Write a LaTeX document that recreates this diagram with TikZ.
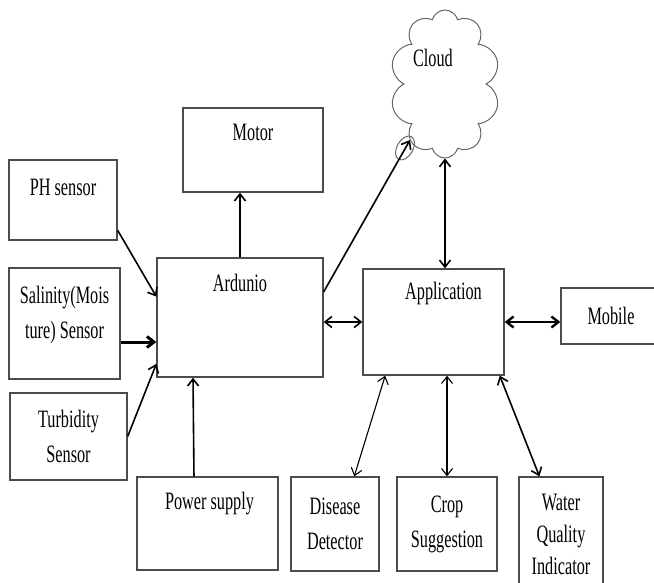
\documentclass[tikz,border=0pt]{standalone}
\usepackage{fontspec}
\newfontfamily\diafont{Liberation Serif}[FakeStretch=0.65]
\usetikzlibrary{arrows.meta}
\usetikzlibrary{shapes.symbols}
\usetikzlibrary{shapes.geometric}

\begin{document}
\begin{tikzpicture}[x=1pt, y=-1pt,
  font=\diafont\fontsize{25}{35}\selectfont,
  blk/.style={draw=black!70, line width=1.3pt, rectangle, inner sep=0pt, align=center},
  toplbl/.style={anchor=north, inner sep=0pt, yshift=-16pt},
  arr/.style={line width=1.6pt, -{Straight Barb[length=7pt,width=11pt]}},
  darr/.style={line width=1.6pt, {Straight Barb[length=7pt,width=11pt]}-{Straight Barb[length=7pt,width=11pt]}},
  slim/.style={line width=1.1pt}]
  % page frame, pixel grid of the original figure (y grows downwards)
  \useasboundingbox (0,0) rectangle (654,582);
  \clip (0,0) rectangle (654,582);
  % sensors on the left
  \node[blk, minimum width=108pt, minimum height=80pt,
    label={[toplbl, yshift=-4pt]north:PH sensor}] (ph) at (63,200) {};
  \node[blk, minimum width=111pt, minimum height=111pt,
    label={[inner sep=0pt, yshift=9pt, align=center]center:Salinity(Mois\\ture) Sensor}] (sal) at (64.5,323.5) {};
  \node[blk, minimum width=117pt, minimum height=87pt] (turb) at (68.5,436.5) {Turbidity\\Sensor};
  % controller, actuator and supply
  \node[blk, minimum width=140pt, minimum height=84pt,
    label={[toplbl, yshift=-1pt]north:Motor}] (motor) at (253,150) {};
  \node[blk, minimum width=166pt, minimum height=119pt,
    label={[toplbl, yshift=-1pt]north:Ardunio}] (ard) at (240,317.5) {};
  \node[blk, minimum width=141pt, minimum height=93pt,
    label={[toplbl, xshift=2pt]north:Power supply}] (pow) at (207.5,523.5) {};
  % cloud with its little tail bubble
  \node[cloud, cloud puffs=10, cloud ignores aspect, draw=black!60, line width=1pt,
    minimum width=110pt, minimum height=148pt,
    label={[inner sep=0pt, xshift=-12pt, yshift=26pt]center:Cloud}] (cloud) at (445,84) {};
  \node[ellipse, draw=black!60, line width=1pt, minimum width=16pt, minimum height=26pt,
    rotate=-30] (tail) at (405,148) {};
  \coordinate (cin) at (410,140);
  % application side
  \node[blk, minimum width=141pt, minimum height=106pt,
    label={[toplbl, xshift=10pt, yshift=2pt]north:Application}] (app) at (433.5,322) {};
  \node[blk, minimum width=100pt, minimum height=56pt] (mob) at (611,316) {Mobile};
  \node[blk, minimum width=88pt, minimum height=94pt] (dis) at (335,524) {Disease\\Detector};
  \node[blk, minimum width=100pt, minimum height=94pt] (crop) at (447,524) {Crop\\Suggestion};
  \node[blk, minimum width=84pt, minimum height=124pt] (wat) at (561,539) {};
  \node[inner sep=0pt, align=center, font=\diafont\fontsize{25}{32}\selectfont]
    (watlbl) at (561,534) {Water\\Quality\\Indicator};
  % sensor and supply inputs
  \draw[arr] (ph.-29) -- (ard.166);
  \draw[arr, line width=3pt] ([yshift=-18.5pt]sal.east) -- ([yshift=-18.5pt]sal.east -| ard.west);
  \draw[arr] (turb.east) -- (ard.209);
  \draw[arr] (pow.106) -- (ard.232);
  \draw[arr] (ard.north) -- (ard.north |- motor.south);
  % links to cloud and application
  \draw[arr] (ard.17) -- (cin);
  \draw[darr] (ard.east |- app.west) -- (app.west);
  \draw[darr] (cloud.south) -- (cloud.south |- app.north);
  \draw[darr, line width=2.4pt] (app.east) -- (app.east -| mob.west);
  % application outputs
  \draw[darr, slim] (app.228) -- (dis.68);
  \draw[darr, slim] (crop.north |- app.south) -- (crop.north);
  \draw[darr] (app.-39) -- (wat.109);
\end{tikzpicture}
\end{document}
